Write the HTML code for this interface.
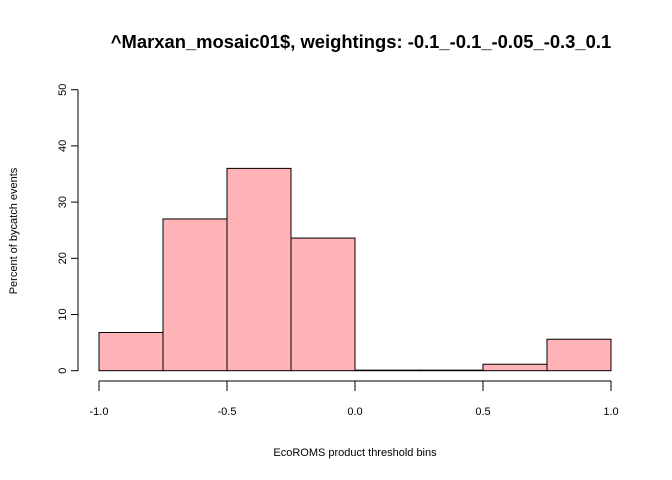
<!DOCTYPE html>
<html><head><meta charset="utf-8"><style>body{margin:0;background:#fff}svg{display:block;font-family:"Liberation Sans",Arial,sans-serif}</style></head>
<body>
<svg id="c" width="672" height="480">
<text x="361" y="48" text-anchor="middle" font-size="18.4" font-weight="bold">^Marxan_mosaic01$, weightings: -0.1_-0.1_-0.05_-0.3_0.1</text>
<text x="355" y="456" text-anchor="middle" font-size="11">EcoROMS product threshold bins</text>
<text transform="translate(17,231) rotate(-90)" text-anchor="middle" font-size="11">Percent of bycatch events</text>
<g id="bars"></g><g id="xa"></g><g id="ya"></g>
</svg>
<script>
const binEdges=[-1,-0.75,-0.5,-0.25,0,0.25,0.5,0.75,1];
const percents=[6.8,27,36,23.6,0.1,0.1,1.15,5.6];
const xTicks=[-1,-0.5,0,0.5,1];
const xTickLabels=["-1.0","-0.5","0.0","0.5","1.0"];
const yTicks=[0,10,20,30,40,50];
const ns="http://www.w3.org/2000/svg";
const X=v=>99+(v+1)*256;
const Y=v=>370.7-v*5.62;
function mk(t,a,p){const e=document.createElementNS(ns,t);for(const k in a)e.setAttribute(k,a[k]);p.appendChild(e);return e;}
const bars=document.getElementById('bars');
percents.forEach((p,i)=>{
 const r=mk('rect',{x:X(binEdges[i]),y:Y(p),width:X(binEdges[i+1])-X(binEdges[i]),height:Y(0)-Y(p),fill:'#ffb3b6',stroke:'#000','stroke-width':1},bars);
 
 
});
const xa=document.getElementById('xa');


mk('line',{x1:X(xTicks[0]),x2:X(xTicks[xTicks.length-1]),y1:381,y2:381,stroke:'#000'},xa);
xTicks.forEach((t,i)=>{
 mk('line',{x1:X(t),x2:X(t),y1:381,y2:391,stroke:'#000'},xa);
 const tx=mk('text',{x:X(t),y:415,'text-anchor':'middle','font-size':11},xa);
 tx.textContent=xTickLabels[i];
 
 
});
const ya=document.getElementById('ya');


mk('line',{x1:78,x2:78,y1:Y(yTicks[0]),y2:Y(yTicks[yTicks.length-1]),stroke:'#000'},ya);
yTicks.forEach(t=>{
 mk('line',{x1:71,x2:78,y1:Y(t),y2:Y(t),stroke:'#000'},ya);
 const tx=mk('text',{transform:`translate(66,${Y(t)}) rotate(-90)`,'text-anchor':'middle','font-size':11},ya);
 tx.textContent=String(t);
 
 
});
</script>
</body></html>
